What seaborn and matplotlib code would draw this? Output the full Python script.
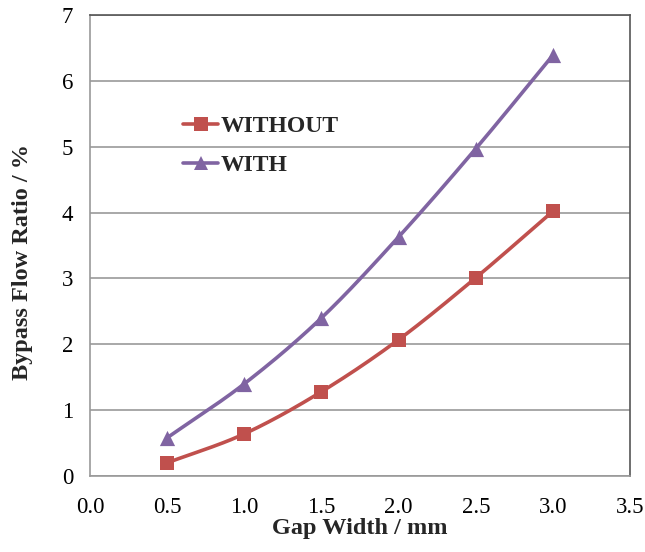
import numpy as np
import pandas as pd
import seaborn as sns
import matplotlib.pyplot as plt
from matplotlib.lines import Line2D

# Data
gap_width = [0.5, 1.0, 1.5, 2.0, 2.5, 3.0]
without_ratio = [0.20, 0.64, 1.28, 2.07, 3.01, 4.02]
with_ratio = [0.58, 1.40, 2.40, 3.63, 4.97, 6.39]
series_names = ['WITHOUT', 'WITH']
colors = ['#C0504D', '#8064A2']
markers = ['s', '^']


# Excel-style smoothed line (Catmull-Rom through the data points)
def smooth_curve(x, y, n=30):
    x = np.asarray(x, float)
    y = np.asarray(y, float)
    px = np.concatenate([[2 * x[0] - x[1]], x, [2 * x[-1] - x[-2]]])
    py = np.concatenate([[2 * y[0] - y[1]], y, [2 * y[-1] - y[-2]]])
    xs, ys = [], []
    t = np.linspace(0, 1, n)
    for i in range(1, len(px) - 2):
        for p, out in ((px, xs), (py, ys)):
            p0, p1, p2, p3 = p[i - 1], p[i], p[i + 1], p[i + 2]
            out.extend(0.5 * (2 * p1 + (-p0 + p2) * t
                              + (2 * p0 - 5 * p1 + 4 * p2 - p3) * t ** 2
                              + (-p0 + 3 * p1 - 3 * p2 + p3) * t ** 3))
    return np.array(xs), np.array(ys)


sns.set_style('white')
plt.rcParams['font.family'] = ['Liberation Serif', 'DejaVu Serif']

fig = plt.figure(figsize=(6.45, 5.52), dpi=100)
ax = fig.add_axes([0.1395, 0.1377, 0.8375, 0.8353])

handles = []
for name, vals, c, m in zip(series_names, [without_ratio, with_ratio], colors, markers):
    sx, sy = smooth_curve(gap_width, vals)
    sns.lineplot(x=sx, y=sy, color=c, linewidth=2.6, sort=False, ax=ax, zorder=3)
    df = pd.DataFrame({'x': gap_width, 'y': vals})
    sns.scatterplot(data=df, x='x', y='y', color=c, marker=m,
                    s=95 if m == 's' else 120, edgecolor=c, linewidth=0, ax=ax, zorder=4)
    handles.append(Line2D([], [], color=c, linewidth=2.6, marker=m,
                          markersize=9.5 if m == 's' else 10.5, markeredgewidth=0))

ax.set_xlim(0, 3.5)
ax.set_ylim(0, 7)
ax.set_xticks(np.arange(0, 3.51, 0.5))
ax.set_xticklabels([f'{v:.1f}' for v in np.arange(0, 3.51, 0.5)])
ax.set_yticks(range(0, 8))

ax.yaxis.grid(True, color='#999999', linewidth=1.2)
ax.xaxis.grid(False)
ax.set_axisbelow(True)

for side in ['left', 'bottom']:
    ax.spines[side].set_color('#999999')
    ax.spines[side].set_linewidth(1.2)
for side in ['top', 'right']:
    ax.spines[side].set_color('#555555')
    ax.spines[side].set_linewidth(1.2)

ax.tick_params(axis='x', direction='in', length=5, width=1, color='#999999',
               labelsize=16.5, pad=15, labelcolor='black')
ax.tick_params(axis='y', length=0, labelsize=16.5, pad=12, labelcolor='black')

ax.set_xlabel('Gap Width / mm', fontsize=17.5, fontweight='bold', labelpad=0)
ax.set_ylabel('Bypass Flow Ratio / %', fontsize=17.5, fontweight='bold')
ax.yaxis.set_label_coords(-0.105, 0.464)

leg = ax.legend(handles, series_names, loc='upper left', bbox_to_anchor=(0.172, 0.781),
                frameon=False, prop={'weight': 'bold', 'size': 17},
                handlelength=1.5, handletextpad=0.1, labelspacing=0.72,
                borderpad=0, borderaxespad=0)

fig.savefig('out.png', dpi=100)
